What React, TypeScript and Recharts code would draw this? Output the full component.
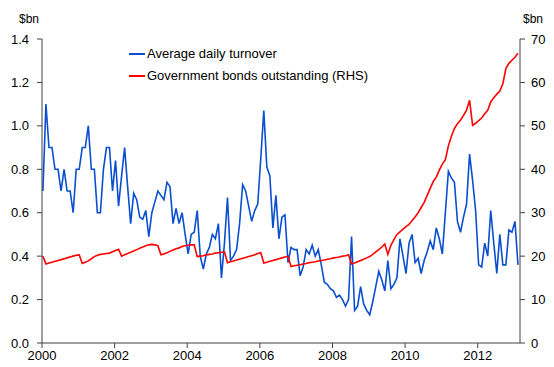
import { LineChart, Line, XAxis, YAxis } from "recharts";

const BLUE = "#0a4fd0";
const RED = "#ff0000";
const AXIS = "#404040";
const FONT = "'Liberation Sans', Arial, sans-serif";

const yearTicks = [2000, 2002, 2004, 2006, 2008, 2010, 2012];
const leftTicks = [0, 0.2, 0.4, 0.6, 0.8, 1.0, 1.2, 1.4];
const rightTicks = [0, 10, 20, 30, 40, 50, 60, 70];

// monthly, Jan 2000 - Feb 2013, $bn
const turnover = [
  0.70, 1.10, 0.90, 0.90, 0.80, 0.80, 0.70, 0.80, 0.70, 0.70, 0.60, 0.80,
  0.80, 0.90, 0.90, 1.00, 0.80, 0.80, 0.60, 0.60, 0.80, 0.90, 0.90, 0.70,
  0.84, 0.63, 0.77, 0.90, 0.72, 0.55, 0.69, 0.66, 0.58, 0.57, 0.61, 0.49,
  0.60, 0.65, 0.70, 0.68, 0.66, 0.74, 0.72, 0.55, 0.62, 0.55, 0.60, 0.50,
  0.41, 0.50, 0.51, 0.61, 0.40, 0.34, 0.41, 0.44, 0.50, 0.48, 0.55, 0.30,
  0.46, 0.67, 0.38, 0.40, 0.43, 0.55, 0.73, 0.70, 0.63, 0.56, 0.61, 0.64,
  0.85, 1.07, 0.81, 0.77, 0.53, 0.68, 0.48, 0.58, 0.59, 0.37, 0.44, 0.43,
  0.43, 0.31, 0.35, 0.43, 0.41, 0.45, 0.40, 0.43, 0.36, 0.28, 0.27, 0.25,
  0.24, 0.21, 0.22, 0.20, 0.17, 0.20, 0.49, 0.15, 0.17, 0.26, 0.18, 0.15,
  0.13, 0.19, 0.26, 0.33, 0.29, 0.24, 0.38, 0.25, 0.27, 0.30, 0.48, 0.40,
  0.32, 0.46, 0.50, 0.37, 0.39, 0.32, 0.38, 0.42, 0.47, 0.43, 0.53, 0.48,
  0.41, 0.60, 0.79, 0.76, 0.74, 0.56, 0.51, 0.58, 0.64, 0.87, 0.75, 0.61,
  0.36, 0.35, 0.46, 0.40, 0.61, 0.46, 0.32, 0.50, 0.36, 0.36, 0.52, 0.51,
  0.56, 0.36,
];

// government bonds outstanding, $bn (RHS)
const bonds = [
  20.0, 18.2, 18.4, 18.6, 18.8, 19.0, 19.2, 19.4, 19.6, 19.8, 20.0, 20.2,
  20.3, 18.3, 18.6, 18.9, 19.4, 19.9, 20.2, 20.4, 20.5, 20.6, 20.7, 21.0,
  21.3, 21.6, 20.0, 20.3, 20.6, 20.9, 21.2, 21.5, 21.8, 22.1, 22.4, 22.6,
  22.7, 22.6, 22.4, 20.3, 20.5, 20.8, 21.1, 21.4, 21.7, 21.9, 22.2, 22.4,
  22.5, 22.6, 22.6, 19.9, 20.0, 20.1, 20.3, 20.4, 20.5, 20.7, 20.8, 20.9,
  21.0, 18.5, 18.7, 18.9, 19.1, 19.3, 19.5, 19.7, 19.9, 20.1, 20.3, 20.6,
  20.8, 18.4, 18.6, 18.8, 19.0, 19.2, 19.4, 19.6, 19.8, 20.0, 17.6, 17.8,
  17.9, 18.0, 18.2, 18.3, 18.5, 18.6, 18.7, 18.9, 19.0, 19.1, 19.3, 19.4,
  19.6, 19.7, 19.8, 20.0, 20.1, 20.3, 18.2, 18.4, 18.7, 19.0, 19.3, 19.6,
  19.9, 20.4, 21.0, 21.5, 22.1, 22.8, 20.4, 22.5, 23.8, 25.0, 25.6, 26.2,
  26.8, 27.3, 28.2, 29.0, 30.0, 31.2, 32.4, 34.0, 35.6, 37.2, 38.2, 39.8,
  41.2, 42.2, 45.4, 47.6, 49.4, 50.5, 51.3, 52.4, 53.6, 55.9, 50.1, 50.6,
  51.2, 51.8, 52.8, 53.6, 55.5, 56.5, 57.3, 58.0, 59.7, 63.2, 64.4, 65.1,
  65.8, 66.7,
];

const data = turnover.map((v, i) => ({
  t: 2000 + (i + 0.3) / 12,
  turnover: v,
  bonds: bonds[i],
}));

const tickStyle = { fontFamily: FONT, fontSize: 13, fill: "#000" };

export default function App() {
  return (
    <div style={{ position: "relative", width: 554, height: 367, fontFamily: FONT }}>
      <style>{`body{margin:0}`}</style>
      <LineChart
        width={554}
        height={367}
        data={data}
        margin={{ top: 39, right: 0, left: 0, bottom: 0 }}
      >
        <XAxis
          dataKey="t"
          type="number"
          domain={[2000, 2013.164]}
          ticks={yearTicks}
          allowDataOverflow
          height={24}
          tickSize={5}
          tickMargin={3}
          stroke={AXIS}
          tick={tickStyle}
          tickLine={{ stroke: AXIS }}
        />
        <YAxis
          yAxisId="l"
          domain={[0, 1.4]}
          ticks={leftTicks}
          width={42}
          tickSize={5}
          tickMargin={8}
          stroke={AXIS}
          tick={tickStyle}
          tickFormatter={(v: number) => v.toFixed(1)}
        />
        <YAxis
          yAxisId="r"
          orientation="right"
          domain={[0, 70]}
          ticks={rightTicks}
          width={34}
          tickSize={5}
          tickMargin={6}
          stroke={AXIS}
          tick={tickStyle}
        />
        <Line
          yAxisId="l"
          dataKey="turnover"
          stroke={BLUE}
          strokeWidth={1.6}
          dot={false}
          isAnimationActive={false}
        />
        <Line
          yAxisId="r"
          dataKey="bonds"
          stroke={RED}
          strokeWidth={1.6}
          dot={false}
          isAnimationActive={false}
        />
      </LineChart>
      <div style={{ position: "absolute", left: 19, top: 12, fontSize: 12 }}>$bn</div>
      <div style={{ position: "absolute", left: 523, top: 12, fontSize: 12 }}>$bn</div>
      <div style={{ position: "absolute", left: 129, top: 43, fontSize: 13, lineHeight: "22px" }}>
        <div style={{ display: "flex", alignItems: "center" }}>
          <span style={{ display: "inline-block", width: 16, height: 2, background: BLUE, marginRight: 2 }} />
          Average daily turnover
        </div>
        <div style={{ display: "flex", alignItems: "center" }}>
          <span style={{ display: "inline-block", width: 16, height: 2, background: RED, marginRight: 2 }} />
          Government bonds outstanding (RHS)
        </div>
      </div>
    </div>
  );
}
